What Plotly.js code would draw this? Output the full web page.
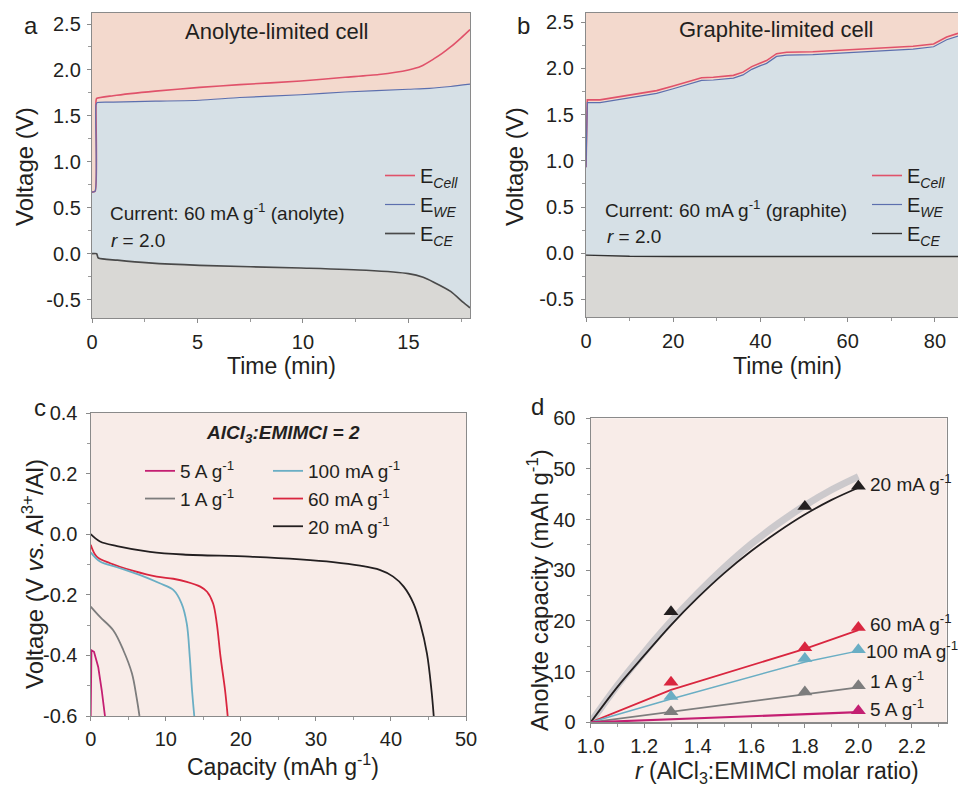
<!DOCTYPE html>
<html><head><meta charset="utf-8">
<script src="https://cdn.plot.ly/plotly-3.0.1.min.js"></script>
<style>body{margin:0;background:#fff}#plot{width:958px;height:786px}</style>
</head><body><div id="plot"></div>
<script>
// ---------- Panel a : anolyte-limited cell ----------
const aTime  = [0, 0.15, 0.19, 0.22, 1, 3, 5.1, 7, 9.9, 12, 13.6, 15, 15.6, 16.2, 16.6, 17, 17.5, 17.92];
const aCell  = [0.67, 0.68, 1.66, 1.69, 1.72, 1.77, 1.81, 1.84, 1.88, 1.92, 1.95, 2.0, 2.04, 2.12, 2.18, 2.25, 2.35, 2.44];
const aWETime= [0, 0.15, 0.19, 0.25, 1, 3, 5.1, 7, 9.9, 12, 15, 16, 17, 17.92];
const aWE    = [0.67, 0.68, 1.62, 1.645, 1.65, 1.66, 1.67, 1.70, 1.73, 1.76, 1.79, 1.80, 1.82, 1.845];
const aCETime= [0, 0.22, 0.3, 1.2, 2.7, 5.1, 9.9, 13, 15, 15.7, 16.2, 17, 17.6, 17.92];
const aCE    = [0.0, 0.0, -0.047, -0.07, -0.10, -0.127, -0.156, -0.18, -0.217, -0.257, -0.31, -0.41, -0.53, -0.59];
const aXRange = [0, 17.92], aYRange = [-0.70, 2.62];

// ---------- Panel b : graphite-limited cell ----------
const bTime = [0, 0.3, 3.2, 10, 16.2, 20, 23, 26.5, 29.2, 33.8, 36, 38, 40, 41.4, 43.7, 46, 52, 59.7, 67.3, 75, 79.7, 82.7, 85.3];
const bCell = [0.93, 1.66, 1.66, 1.71, 1.76, 1.81, 1.85, 1.90, 1.905, 1.925, 1.96, 2.02, 2.06, 2.085, 2.16, 2.175, 2.18, 2.20, 2.22, 2.24, 2.265, 2.34, 2.38];
const bWE   = [0.93, 1.63, 1.63, 1.68, 1.73, 1.78, 1.82, 1.87, 1.875, 1.895, 1.93, 1.99, 2.03, 2.055, 2.13, 2.145, 2.15, 2.17, 2.19, 2.21, 2.235, 2.31, 2.35];
const bCETime = [0, 1, 5, 10, 20, 40, 60, 85.3];
const bCE     = [-0.02, -0.022, -0.028, -0.033, -0.035, -0.035, -0.035, -0.035];
const bXRange = [0, 85.3], bYRange = [-0.69, 2.60];

// ---------- Panel c : discharge curves of the anolyte ----------
const c20x = [0, 1.24, 3.5, 7.9, 12.3, 21.2, 27.9, 32.3, 35.9, 38.5, 40.3, 41.7, 43.0, 43.9, 44.8, 45.4, 45.7];
const c20y = [0.0, -0.024, -0.039, -0.058, -0.067, -0.074, -0.083, -0.092, -0.104, -0.118, -0.14, -0.173, -0.228, -0.295, -0.394, -0.515, -0.6];
const c60x = [0, 0.8, 2.6, 5.7, 8.8, 11.0, 12.8, 14.6, 15.5, 16.3, 16.8, 17.3, 17.9, 18.25];
const c60y = [-0.035, -0.074, -0.096, -0.121, -0.14, -0.147, -0.157, -0.173, -0.19, -0.228, -0.295, -0.405, -0.515, -0.6];
const c100x = [0, 1.24, 3.5, 6.6, 9.2, 11.0, 12.1, 12.8, 13.2, 13.5, 13.8];
const c100y = [-0.06, -0.09, -0.109, -0.135, -0.162, -0.184, -0.228, -0.295, -0.405, -0.515, -0.6];
const c1Ax = [0, 1.24, 3.0, 4.35, 5.5, 6.1, 6.5];
const c1Ay = [-0.239, -0.273, -0.317, -0.383, -0.46, -0.537, -0.6];
const c5Ax = [0, 0.1, 0.44, 1.0, 1.47, 1.9];
const c5Ay = [-0.6, -0.383, -0.388, -0.438, -0.515, -0.6];

// ---------- Panel d : anolyte capacity vs r ----------
const dR      = [1.3, 1.8, 2.0];
const d20     = [21.8, 42.6, 46.6];
const d60     = [7.9, 14.7, 18.7];
const d100    = [5.1, 12.6, 14.3];
const d1A     = [2.1, 6.0, 7.2];
const d5A     = [null, null, 2.3];
const dFitR   = [1.0, 1.1, 1.2, 1.3, 1.4, 1.5, 1.6, 1.7, 1.8, 1.9, 2.0];
const dFit20  = [0, 7.0, 13.2, 19.2, 24.6, 29.5, 33.8, 37.6, 41.0, 43.9, 46.3];
const dBand20 = [0, 7.3, 13.8, 19.9, 25.5, 30.6, 35.2, 39.2, 42.8, 45.9, 48.5];
const dLinR   = [1.0, 1.3, 1.8, 2.0];
const dFit60  = [0, 6.4, 14.5, 18.2];
const dFit100 = [0, 4.6, 11.9, 14.1];
const dFit1A  = [0, 2.1, 5.6, 6.9];
const dFit5A  = [0, 0.6, 1.6, 2.0];

// ---------- tick labels (hyphen minus as in the figure) ----------
const abTickVals = [-0.5, 0, 0.5, 1, 1.5, 2, 2.5];
const abTickText = ['-0.5', '0.0', '0.5', '1.0', '1.5', '2.0', '2.5'];
const cTickVals  = [-0.6, -0.4, -0.2, 0, 0.2, 0.4];
const cTickText  = ['-0.6', '-0.4', '-0.2', '0.0', '0.2', '0.4'];

// ---------- styles ----------
const FONT = 'Liberation Sans, Arial, Helvetica, sans-serif';
const TXT = '#231f20';
const pinkA = '#f3d9cd', blueA = '#d6e0e6', grayA = '#d9d8d5', bgCD = '#f8ece8';
const colCell = '#e0526a', colWE = '#5c6fae', colCE = '#4a4a4a';
const col20 = '#231f20', col60 = '#d9263f', col100 = '#6aaec4', col1A = '#7d7d7d', col5A = '#c41f72';
const TF = 20;

function fillPair(xr, yr, cex, cey, wex, wey, xa, ya, sh){
  return [
    {x:[xr[0], xr[1]], y:[yr[0]-1, yr[0]-1], xaxis:xa, yaxis:ya, mode:'lines', line:{width:0}, showlegend:false, hoverinfo:'skip'},
    {x:cex, y:cey, xaxis:xa, yaxis:ya, mode:'lines', line:{width:0, shape:sh}, fill:'tonexty', fillcolor:grayA, showlegend:false, hoverinfo:'skip'},
    {x:wex, y:wey, xaxis:xa, yaxis:ya, mode:'lines', line:{width:0, shape:sh}, fill:'tonexty', fillcolor:blueA, showlegend:false, hoverinfo:'skip'}
  ];
}

const data = [
  ...fillPair(aXRange, aYRange, aCETime, aCE, aWETime, aWE, 'x', 'y', 'spline'),
  {x:aTime, y:aCell, xaxis:'x', yaxis:'y', mode:'lines', line:{color:colCell, width:1.6, shape:'spline', smoothing:0.6}, name:'E<sub><i>Cell</i></sub>', legend:'legend', legendrank:1},
  {x:aWETime, y:aWE, xaxis:'x', yaxis:'y', mode:'lines', line:{color:colWE, width:1.2, shape:'spline', smoothing:0.6}, name:'E<sub><i>WE</i></sub>', legend:'legend', legendrank:2},
  {x:aCETime, y:aCE, xaxis:'x', yaxis:'y', mode:'lines', line:{color:colCE, width:1.7, shape:'spline', smoothing:0.6}, name:'E<sub><i>CE</i></sub>', legend:'legend', legendrank:3},

  ...fillPair(bXRange, bYRange, bCETime, bCE, bTime, bWE, 'x2', 'y2', 'linear'),
  {x:bTime, y:bCell, xaxis:'x2', yaxis:'y2', mode:'lines', line:{color:colCell, width:1.6}, name:'E<sub><i>Cell</i></sub>', legend:'legend2', legendrank:1},
  {x:bTime, y:bWE, xaxis:'x2', yaxis:'y2', mode:'lines', line:{color:colWE, width:1.2}, name:'E<sub><i>WE</i></sub>', legend:'legend2', legendrank:2},
  {x:bCETime, y:bCE, xaxis:'x2', yaxis:'y2', mode:'lines', line:{color:'#333', width:1.4}, name:'E<sub><i>CE</i></sub>', legend:'legend2', legendrank:3},

  {x:c20x, y:c20y, xaxis:'x3', yaxis:'y3', mode:'lines', line:{color:col20, width:1.8, shape:'spline'}, name:'20 mA g<sup>-1</sup>', legend:'legend4', legendrank:3},
  {x:c60x, y:c60y, xaxis:'x3', yaxis:'y3', mode:'lines', line:{color:col60, width:1.8, shape:'spline'}, name:'60 mA g<sup>-1</sup>', legend:'legend4', legendrank:2},
  {x:c100x, y:c100y, xaxis:'x3', yaxis:'y3', mode:'lines', line:{color:col100, width:1.8, shape:'spline'}, name:'100 mA g<sup>-1</sup>', legend:'legend4', legendrank:1},
  {x:c1Ax, y:c1Ay, xaxis:'x3', yaxis:'y3', mode:'lines', line:{color:col1A, width:1.8, shape:'spline'}, name:'1 A g<sup>-1</sup>', legend:'legend3', legendrank:2},
  {x:c5Ax, y:c5Ay, xaxis:'x3', yaxis:'y3', mode:'lines', line:{color:col5A, width:1.8}, name:'5 A g<sup>-1</sup>', legend:'legend3', legendrank:1},

  {x:dFitR, y:dBand20, xaxis:'x4', yaxis:'y4', mode:'lines', line:{color:'rgba(190,190,195,0.75)', width:7, shape:'spline'}, showlegend:false},
  {x:dFitR, y:dFit20, xaxis:'x4', yaxis:'y4', mode:'lines', line:{color:col20, width:1.8, shape:'spline'}, showlegend:false},
  {x:dLinR, y:dFit60, xaxis:'x4', yaxis:'y4', mode:'lines', line:{color:col60, width:1.8}, showlegend:false},
  {x:dLinR, y:dFit100, xaxis:'x4', yaxis:'y4', mode:'lines', line:{color:col100, width:1.5}, showlegend:false},
  {x:dLinR, y:dFit1A, xaxis:'x4', yaxis:'y4', mode:'lines', line:{color:col1A, width:1.8}, showlegend:false},
  {x:dLinR, y:dFit5A, xaxis:'x4', yaxis:'y4', mode:'lines', line:{color:col5A, width:2.2}, showlegend:false},
  {x:dR, y:d20, xaxis:'x4', yaxis:'y4', mode:'markers', marker:{symbol:'triangle-up', size:13, color:col20}, showlegend:false},
  {x:dR, y:d60, xaxis:'x4', yaxis:'y4', mode:'markers', marker:{symbol:'triangle-up', size:13, color:col60}, showlegend:false},
  {x:dR, y:d100, xaxis:'x4', yaxis:'y4', mode:'markers', marker:{symbol:'triangle-up', size:13, color:col100}, showlegend:false},
  {x:dR, y:d1A, xaxis:'x4', yaxis:'y4', mode:'markers', marker:{symbol:'triangle-up', size:13, color:col1A}, showlegend:false},
  {x:dR, y:d5A, xaxis:'x4', yaxis:'y4', mode:'markers', marker:{symbol:'triangle-up', size:13, color:col5A}, showlegend:false}
];

const MINOR = d => ({dtick:d, ticks:'outside', ticklen:3, tickcolor:'#9a9a9a'});
function ax(extra){
  return Object.assign({
    showgrid:false, zeroline:false, showline:true, linecolor:'#8a8a8a', linewidth:1.2,
    mirror:true, ticks:'outside', ticklen:4, tickcolor:'#8a8a8a', tickwidth:1,
    tickfont:{size:TF, color:TXT, family:FONT}
  }, extra);
}

const Y = v => 1 - v/786, X = v => v/958;
function note(text, x, y, size, opts){
  return Object.assign({text:text, xref:'paper', yref:'paper', x:X(x), y:Y(y), xanchor:'center', yanchor:'middle', showarrow:false, font:{size:size, color:TXT, family:FONT}}, opts || {});
}

const legendBase = {bgcolor:'rgba(0,0,0,0)', borderwidth:0, font:{size:20, color:TXT, family:FONT}, xanchor:'left', yanchor:'top', tracegroupgap:0, itemwidth:30, traceorder:'normal'};

const layout = {
  width:958, height:786, margin:{l:0, r:0, t:0, b:0},
  paper_bgcolor:'#ffffff', plot_bgcolor:'rgba(0,0,0,0)',
  font:{family:FONT, size:18, color:TXT},
  showlegend:true,
  xaxis: ax({domain:[X(92), X(470)], range:aXRange, anchor:'y', dtick:5, minor:MINOR(2.5), ticklabelstandoff:2}),
  yaxis: ax({domain:[Y(318), Y(13)], range:aYRange, anchor:'x', tickvals:abTickVals, ticktext:abTickText, minor:MINOR(0.25), ticklabelstandoff:2}),
  xaxis2: ax({domain:[X(586), X(958)], range:bXRange, anchor:'y2', dtick:20, minor:MINOR(10), ticklabelstandoff:2}),
  yaxis2: ax({domain:[Y(317), Y(13)], range:bYRange, anchor:'x2', tickvals:abTickVals, ticktext:abTickText, minor:MINOR(0.25), ticklabelstandoff:3}),
  xaxis3: ax({domain:[X(90.7), X(466)], range:[0,50], anchor:'y3', dtick:10, minor:MINOR(5), ticklabelstandoff:1}),
  yaxis3: ax({domain:[Y(716), Y(413)], range:[-0.6,0.4], anchor:'x3', tickvals:cTickVals, ticktext:cTickText, minor:MINOR(0.1), ticklabelstandoff:4}),
  xaxis4: ax({domain:[X(590.7), X(946.7)], range:[1.0,2.33], anchor:'y4', dtick:0.2, tickformat:'.1f', minor:MINOR(0.1), ticklabelstandoff:1}),
  yaxis4: ax({domain:[Y(722.3), Y(418.3)], range:[0,60], anchor:'x4', dtick:10, minor:MINOR(5), ticklabelstandoff:6}),
  legend:  Object.assign({}, legendBase, {x:X(380), y:Y(156)}),
  legend2: Object.assign({}, legendBase, {x:X(867), y:Y(156)}),
  legend3: Object.assign({}, legendBase, {x:X(140), y:Y(452), font:{size:19, color:TXT, family:FONT}}),
  legend4: Object.assign({}, legendBase, {x:X(268), y:Y(452), font:{size:19, color:TXT, family:FONT}}),
  shapes: [
    {type:'rect', xref:'x domain', yref:'y domain', x0:0, x1:1, y0:0, y1:1, fillcolor:pinkA, line:{width:0}, layer:'below'},
    {type:'rect', xref:'x2 domain', yref:'y2 domain', x0:0, x1:1, y0:0, y1:1, fillcolor:pinkA, line:{width:0}, layer:'below'},
    {type:'rect', xref:'x3 domain', yref:'y3 domain', x0:0, x1:1, y0:0, y1:1, fillcolor:bgCD, line:{width:0}, layer:'below'},
    {type:'rect', xref:'x4 domain', yref:'y4 domain', x0:0, x1:1, y0:0, y1:1, fillcolor:bgCD, line:{width:0}, layer:'below'}
  ],
  annotations: [
    // panel letters
    note('a', 31, 25, 24), note('b', 523, 25, 24), note('c', 40, 407, 24), note('d', 537, 406, 24),
    // axis titles
    note('Time (min)', 281, 366, 23), note('Voltage (V)', 24, 167, 24, {textangle:-90}),
    note('Time (min)', 787, 366, 23), note('Voltage (V)', 514, 167, 24, {textangle:-90}),
    note('Capacity (mAh g<sup>-1</sup>)', 283, 765, 23), note('Voltage (V <i>vs.</i> Al<sup>3+</sup>/Al)', 33, 574, 24, {textangle:-90}),
    note('<i>r</i> (AlCl<sub>3</sub>:EMIMCl molar ratio)', 777, 772, 23), note('Anolyte capacity (mAh g<sup>-1</sup>)', 538, 590, 24, {textangle:-90}),
    // panel texts
    note('Anolyte-limited cell', 276, 31, 22),
    note('Graphite-limited cell', 776, 30, 22),
    note('Current: 60 mA g<sup>-1</sup> (anolyte)', 108, 212, 19, {xanchor:'left'}),
    note('<i>r</i> = 2.0', 109, 240, 19, {xanchor:'left'}),
    note('Current: 60 mA g<sup>-1</sup> (graphite)', 603, 209, 19, {xanchor:'left'}),
    note('<i>r</i> = 2.0', 605, 236, 19, {xanchor:'left'}),
    note('<b><i>AlCl<sub>3</sub>:EMIMCl = 2</i></b>', 283, 434, 19),
    {text:'20 mA g<sup>-1</sup>', xref:'x4', yref:'y4', x:2.035, y:47.2, xanchor:'left', yanchor:'middle', showarrow:false, font:{size:19}},
    {text:'60 mA g<sup>-1</sup>', xref:'x4', yref:'y4', x:2.035, y:19.6, xanchor:'left', yanchor:'middle', showarrow:false, font:{size:19}},
    {text:'100 mA g<sup>-1</sup>', xref:'x4', yref:'y4', x:2.02, y:14.3, xanchor:'left', yanchor:'middle', showarrow:false, font:{size:19}},
    {text:'1 A g<sup>-1</sup>', xref:'x4', yref:'y4', x:2.035, y:8.4, xanchor:'left', yanchor:'middle', showarrow:false, font:{size:19}},
    {text:'5 A g<sup>-1</sup>', xref:'x4', yref:'y4', x:2.035, y:2.8, xanchor:'left', yanchor:'middle', showarrow:false, font:{size:19}}
  ]
};

Plotly.newPlot('plot', data, layout, {displayModeBar:false, staticPlot:true});
</script>
</body></html>
